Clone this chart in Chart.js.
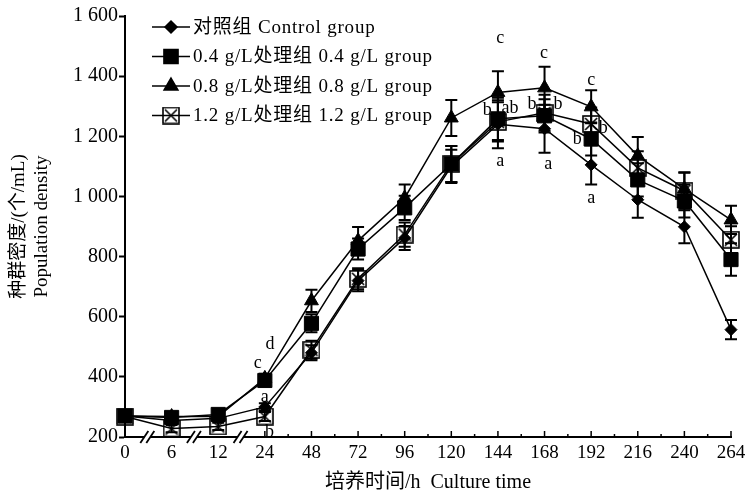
<!DOCTYPE html>
<html>
<head>
<meta charset="utf-8">
<script src="https://cdn.jsdelivr.net/npm/chart.js@4.4.0/dist/chart.umd.min.js"></script>
<style>
  html, body { margin: 0; padding: 0; background: #fff; }
</style>
</head>
<body>
<canvas id="growthChart" width="751" height="491"></canvas>
<script>
// culture time (h)
const hours = ['0', '6', '12', '24', '48', '72', '96', '120', '144', '168', '192', '216', '240', '264'];

// population density (ind/mL)
const control = [270, 255, 262, 300, 480, 720, 862, 1100, 1240, 1225, 1105, 989, 899, 557];
const dose04 = [270, 265, 275, 388, 578, 825, 962, 1108, 1258, 1268, 1191, 1055, 985, 790];
const dose08 = [270, 268, 268, 395, 653, 853, 995, 1261, 1346, 1361, 1298, 1135, 1025, 922];
const dose12 = [268, 228, 235, 268, 490, 726, 873, 1108, 1248, 1278, 1241, 1095, 1019, 856];

// standard deviations
const controlErr = [10, 10, 10, 12, 25, 35, 40, 55, 80, 80, 65, 60, 55, 32];
const dose04Err = [10, 10, 10, 15, 30, 35, 40, 60, 70, 55, 55, 55, 55, 54];
const dose08Err = [10, 10, 10, 15, 37, 45, 45, 60, 70, 70, 55, 63, 55, 47];
const dose12Err = [12, 12, 12, 15, 30, 35, 40, 60, 65, 60, 55, 55, 60, 45];

const seriesNames = [
  '对照组 Control group',
  '0.4 g/L处理组 0.4 g/L group',
  '0.8 g/L处理组 0.8 g/L group',
  '1.2 g/L处理组 1.2 g/L group'
];

// significance letters: [time index, density, letter]
const letterIdx = [2.85, 3.11, 3.0, 3.1, 7.77, 8.05, 8.26, 8.05, 8.73, 8.99, 9.29, 9.08, 9.7, 10.0, 10.26, 10.0];
const letterVal = [444, 510, 331, 215, 1288, 1527, 1294, 1118, 1308, 1477, 1308, 1108, 1191, 1387, 1228, 995];
const letterText = ['c', 'd', 'a', 'b', 'b', 'c', 'ab', 'a', 'b', 'c', 'b', 'a', 'b', 'c', 'b', 'a'];

const yTicks = [200, 400, 600, 800, 1000, 1200, 1400, 1600];

const serif = "'Liberation Serif', 'Noto Sans CJK SC', serif";

// open square with a cross, for the 1.2 g/L group
function boxCross(size) {
  const c = document.createElement('canvas');
  c.width = size; c.height = size;
  const g = c.getContext('2d');
  g.strokeStyle = '#000';
  g.lineWidth = 1.6;
  g.strokeRect(1, 1, size - 2, size - 2);
  g.beginPath();
  g.moveTo(3, 3); g.lineTo(size - 3, size - 3);
  g.moveTo(size - 3, 3); g.lineTo(3, size - 3);
  g.stroke();
  return c;
}
const crossMarker = boxCross(18);

function makeSet(label, values, errors, style, radius) {
  return {
    label: label,
    data: values,
    errors: errors,
    borderColor: '#000',
    backgroundColor: '#000',
    borderWidth: 1.5,
    pointStyle: style,
    pointRadius: radius,
    pointBorderWidth: 1,
    pointBackgroundColor: '#000',
    pointBorderColor: '#000',
    tension: 0
  };
}

// error bars, drawn under the markers
const errorBars = {
  id: 'errorBars',
  beforeDatasetsDraw(chart) {
    const ctx = chart.ctx;
    const x = chart.scales.x, y = chart.scales.y;
    ctx.save();
    ctx.strokeStyle = '#000';
    ctx.lineWidth = 2;
    chart.data.datasets.forEach(ds => {
      ds.data.forEach((v, i) => {
        const px = x.getPixelForValue(i);
        const top = y.getPixelForValue(v + ds.errors[i]);
        const bot = y.getPixelForValue(v - ds.errors[i]);
        ctx.beginPath();
        ctx.moveTo(px, top); ctx.lineTo(px, bot);
        ctx.moveTo(px - 6, top); ctx.lineTo(px + 6, top);
        ctx.moveTo(px - 6, bot); ctx.lineTo(px + 6, bot);
        ctx.stroke();
      });
    });
    ctx.restore();
  }
};

// x ticks pointing inward, axis breaks, letters and legend
const decorations = {
  id: 'decorations',
  afterDraw(chart) {
    const ctx = chart.ctx;
    const x = chart.scales.x, y = chart.scales.y;
    const area = chart.chartArea;
    const base = area.bottom;
    ctx.save();
    ctx.strokeStyle = '#000';
    ctx.lineWidth = 1.5;
    for (let i = 3; i < hours.length; i++) {
      const px = x.getPixelForValue(i);
      ctx.beginPath(); ctx.moveTo(px, base); ctx.lineTo(px, base - 6); ctx.stroke();
      if (i < hours.length - 1) {
        const mx = x.getPixelForValue(i + 0.5);
        ctx.beginPath(); ctx.moveTo(mx, base); ctx.lineTo(mx, base - 3); ctx.stroke();
      }
    }
    // axis breaks
    for (let i = 0; i < 3; i++) {
      const mx = x.getPixelForValue(i + 0.5);
      ctx.fillStyle = '#fff';
      ctx.fillRect(mx - 4, base - 2, 6, 4);
      ctx.lineWidth = 1.8;
      [-3, 3].forEach(d => {
        ctx.beginPath();
        ctx.moveTo(mx + d - 5, base + 6);
        ctx.lineTo(mx + d + 3, base - 6);
        ctx.stroke();
      });
    }
    // significance letters
    ctx.fillStyle = '#000';
    ctx.font = '18px ' + serif;
    ctx.textAlign = 'center';
    ctx.textBaseline = 'middle';
    letterText.forEach((t, k) => {
      ctx.fillText(t, x.getPixelForValue(letterIdx[k]), y.getPixelForValue(letterVal[k]));
    });
    // legend
    ctx.textAlign = 'left';
    ctx.font = '19px ' + serif;
    ctx.letterSpacing = '0.8px';
    chart.data.datasets.forEach((ds, k) => {
      const ly = area.top + 11 + k * 29.5;
      const lx = area.left + 27;
      ctx.lineWidth = 1.5;
      ctx.beginPath(); ctx.moveTo(lx, ly); ctx.lineTo(lx + 38, ly); ctx.stroke();
      Chart.helpers.drawPoint(ctx, {
        pointStyle: ds.pointStyle, radius: ds.pointRadius, borderWidth: 1, rotation: 0
      }, lx + 19, ly);
      ctx.fillText(ds.label, lx + 41, ly + 1);
    });
    ctx.restore();
  }
};

const config = {
  type: 'line',
  data: {
    labels: hours,
    datasets: [
      makeSet(seriesNames[0], control, controlErr, 'rectRot', 6),
      makeSet(seriesNames[1], dose04, dose04Err, 'rect', 10),
      makeSet(seriesNames[2], dose08, dose08Err, 'triangle', 8),
      makeSet(seriesNames[3], dose12, dose12Err, crossMarker, 9)
    ]
  },
  options: {
    responsive: false,
    animation: false,
    layout: { padding: { top: 16, right: 20, left: 0, bottom: 0 } },
    plugins: {
      legend: { display: false },
      tooltip: { enabled: false }
    },
    scales: {
      x: {
        type: 'category',
        offset: false,
        grid: { display: false, drawTicks: false },
        border: { display: true, color: '#000', width: 2 },
        ticks: { color: '#000', padding: 5, maxRotation: 0, autoSkip: false, font: { family: serif, size: 19 } },
        title: {
          display: true,
          text: '培养时间/h  Culture time',
          color: '#000',
          padding: { top: 0, bottom: -4 },
          font: { family: serif, size: 20 }
        },
        afterFit(scale) { scale.height = 54; }
      },
      y: {
        min: 200,
        max: 1600,
        afterBuildTicks(scale) { scale.ticks = yTicks.map(v => ({ value: v })); },
        grid: { display: true, drawOnChartArea: false, tickLength: 6, tickColor: '#000', tickWidth: 2 },
        border: { display: true, color: '#000', width: 2 },
        ticks: {
          color: '#000',
          padding: 1,
          font: { family: serif, size: 20 },
          callback: v => v >= 1000 ? String(v).replace(/^(\d)(\d{3})$/, '$1 $2') : String(v)
        },
        title: {
          display: true,
          text: ['种群密度/(个/mL)', 'Population density'],
          color: '#000',
          padding: { top: 8, bottom: 0 },
          font: { family: serif, size: 19 }
        },
        afterFit(scale) { scale.width = 125; }
      }
    }
  },
  plugins: [errorBars, decorations]
};

const growthChart = new Chart(document.getElementById('growthChart'), config);
</script>
</body>
</html>
